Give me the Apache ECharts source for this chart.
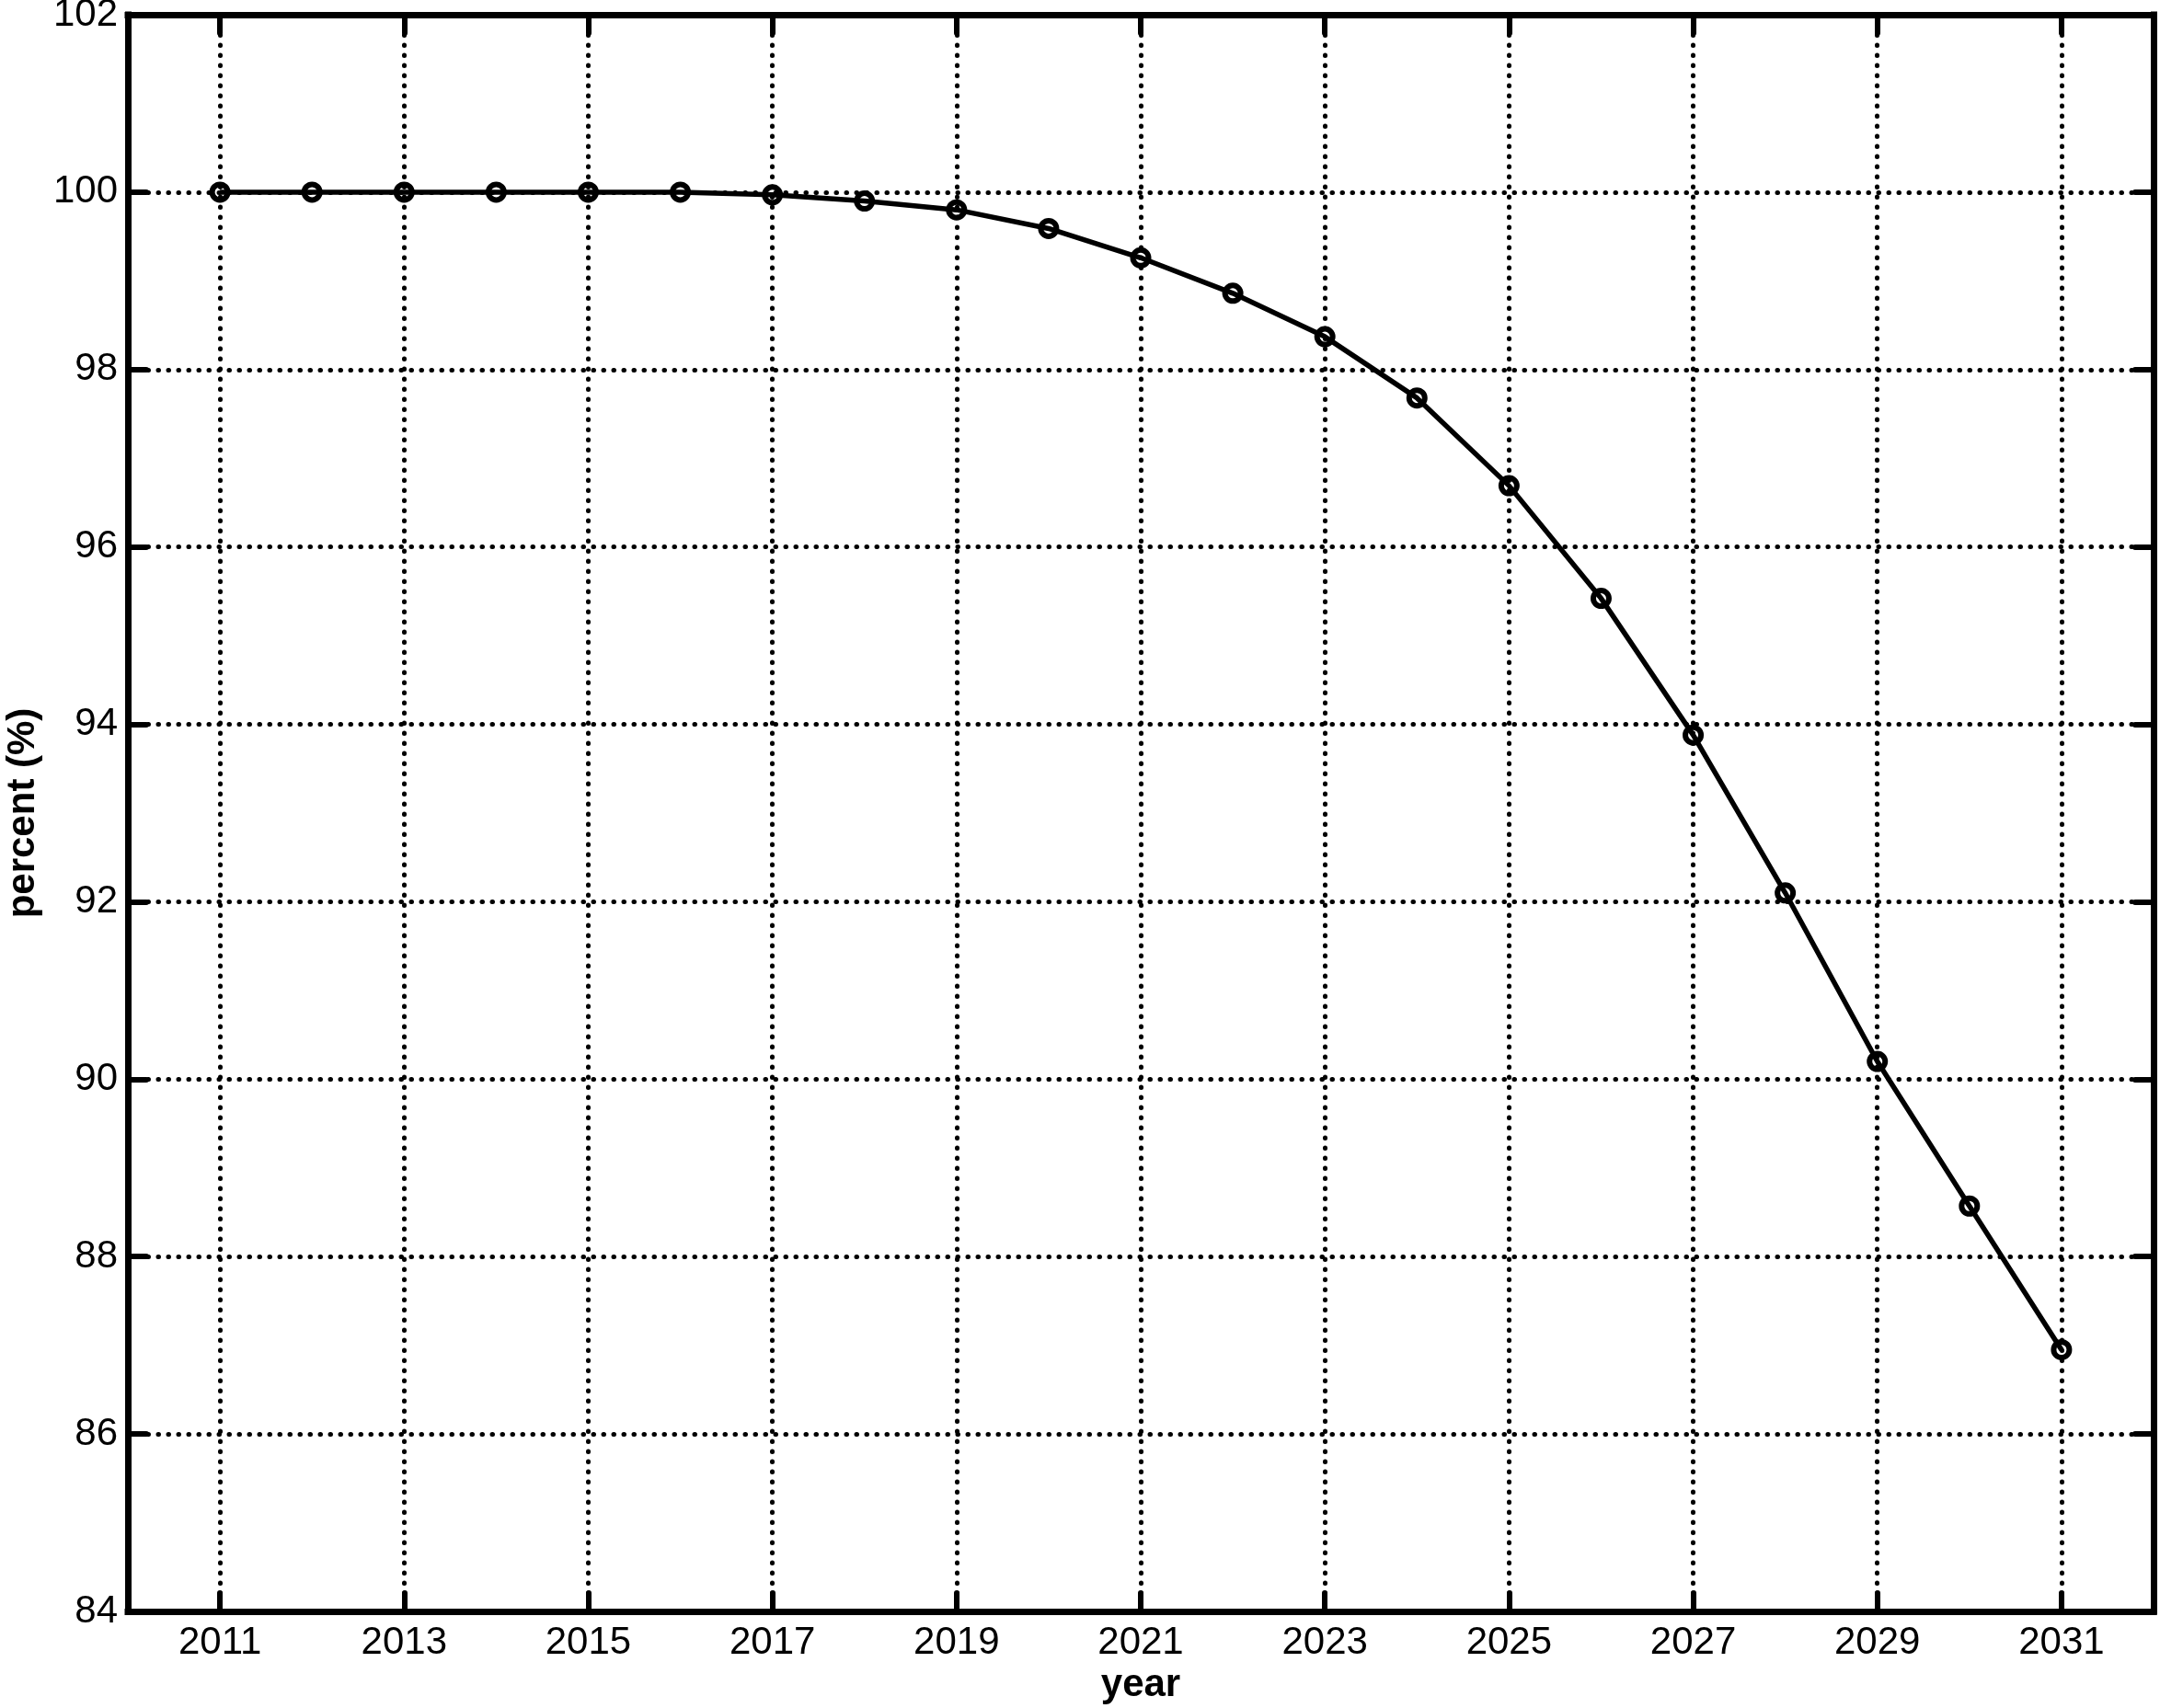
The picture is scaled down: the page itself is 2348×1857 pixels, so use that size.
<!DOCTYPE html>
<html>
<head>
<meta charset="utf-8">
<script src="https://cdn.jsdelivr.net/npm/echarts@6/dist/echarts.min.js"></script>
<style>
html,body{margin:0;padding:0;background:#fff;}
#c{width:2348px;height:1857px;}
</style>
</head>
<body>
<div id="c"></div>
<script>
const years = [2011,2012,2013,2014,2015,2016,2017,2018,2019,2020,2021,2022,2023,2024,2025,2026,2027,2028,2029,2030,2031];
const percent = [100,100,100,100,100,100,99.97,99.90,99.80,99.59,99.26,98.86,98.37,97.68,96.69,95.42,93.88,92.10,90.20,88.57,86.95];
const xTickValues = [2011,2013,2015,2017,2019,2021,2023,2025,2027,2029,2031];
const xName = 'year';
const yName = 'percent (%)';

const FONT = '"Liberation Sans", Arial, Helvetica, sans-serif';
const dotted = { color: '#000', width: 5, type: [0.5, 10.5], cap: 'round' };
const frame = { color: '#000', width: 7, cap: 'square' };
const tick = { inside: true, length: 20, lineStyle: { color: '#000', width: 6, cap: 'round' } };

const chart = echarts.init(document.getElementById('c'), null, { renderer: 'canvas' });
chart.setOption({
  animation: false,
  backgroundColor: '#fff',
  grid: { left: 139, right: 7, top: 16, bottom: 105, containLabel: false, outerBoundsMode: 'none' },
  xAxis: [
    {
      type: 'value', position: 'bottom', min: 2010, max: 2032,
      name: xName, nameLocation: 'middle', nameGap: 57,
      nameTextStyle: { fontFamily: FONT, fontSize: 42, fontWeight: 'bold', color: '#000' },
      axisLine: { show: true, onZero: false, lineStyle: frame },
      axisTick: Object.assign({ show: true, customValues: xTickValues }, tick),
      axisLabel: { show: true, customValues: xTickValues, margin: 13, fontFamily: FONT, fontSize: 42, color: '#000', formatter: v => String(v) },
      splitLine: { show: true, lineStyle: dotted }
    },
    {
      type: 'value', position: 'top', min: 2010, max: 2032,
      axisLine: { show: true, onZero: false, lineStyle: frame },
      axisTick: Object.assign({ show: true, customValues: xTickValues }, tick),
      axisLabel: { show: false, customValues: xTickValues },
      splitLine: { show: false }
    }
  ],
  yAxis: [
    {
      type: 'value', position: 'left', min: 84, max: 102, interval: 2,
      name: yName, nameLocation: 'middle', nameGap: 93,
      nameTextStyle: { fontFamily: FONT, fontSize: 42, fontWeight: 'bold', color: '#000' },
      axisLine: { show: true, onZero: false, lineStyle: frame },
      axisTick: Object.assign({ show: true }, tick),
      axisLabel: { show: true, margin: 11, fontFamily: FONT, fontSize: 42, color: '#000' },
      splitLine: { show: true, lineStyle: dotted }
    },
    {
      type: 'value', position: 'right', min: 84, max: 102, interval: 2,
      axisLine: { show: true, onZero: false, lineStyle: frame },
      axisTick: Object.assign({ show: true }, tick),
      axisLabel: { show: false },
      splitLine: { show: false }
    }
  ],
  series: [{
    type: 'line',
    xAxisIndex: 0, yAxisIndex: 0,
    data: years.map((y, i) => [y, percent[i]]),
    symbol: 'circle', symbolSize: 17, showAllSymbol: true,
    lineStyle: { color: '#000', width: 5.5 },
    itemStyle: { color: 'rgba(0,0,0,0)', borderColor: '#000', borderWidth: 6 },
    z: 5
  }]
});
</script>
</body>
</html>
